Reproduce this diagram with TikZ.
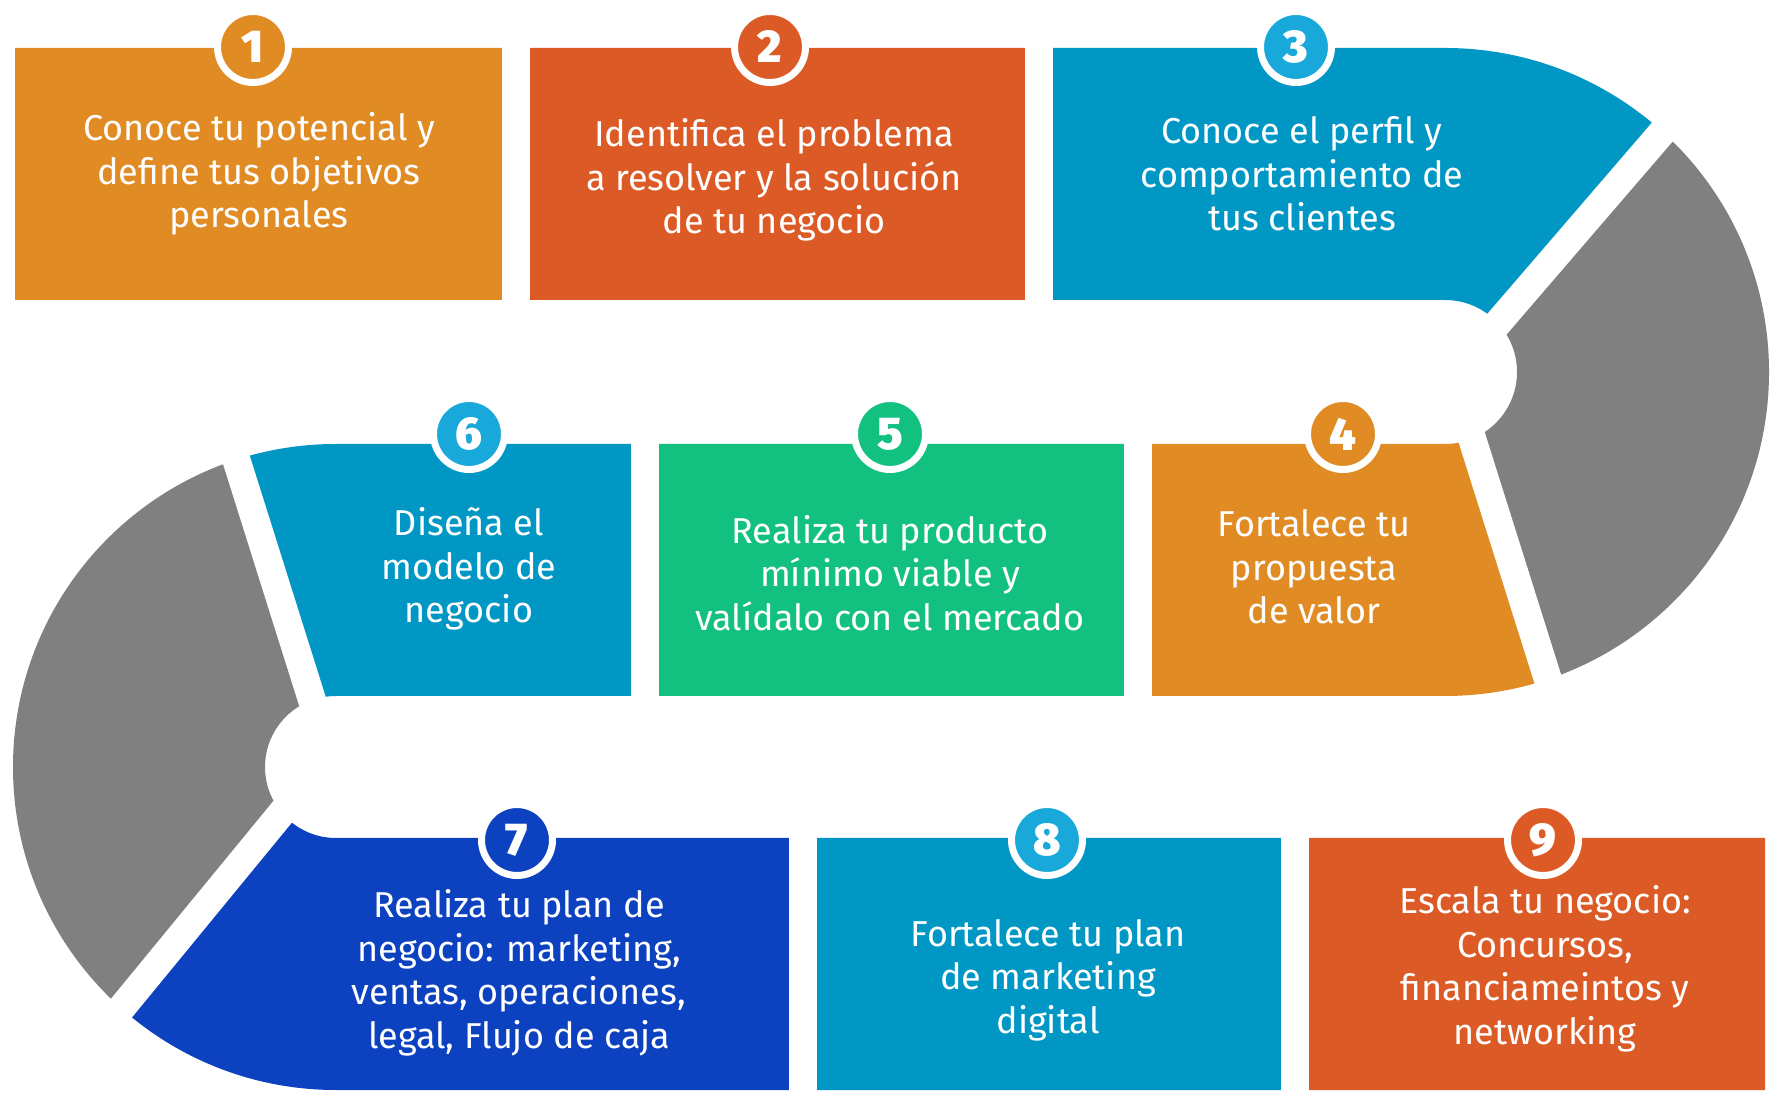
\documentclass[tikz,border=0pt]{standalone}
\usepackage{fontspec}
\setmainfont{Fira Sans}
\newfontfamily\numfont{Fira Sans Black}
\definecolor{corange}{HTML}{E08B24}
\definecolor{cred}{HTML}{DC5A26}
\definecolor{cblue}{HTML}{0097C4}
\definecolor{ccyan}{HTML}{18A8DA}
\definecolor{cgreen}{HTML}{12C07F}
\definecolor{cdblue}{HTML}{0C41C0}
\definecolor{cgrey}{HTML}{808080}
\begin{document}
\begin{tikzpicture}[x=1pt,y=1pt,
  txt/.style={text=white,align=center,font=\fontsize{36}{43.5}\selectfont,inner sep=0pt},
  badge/.style={circle,draw=white,line width=7pt,minimum size=71pt,inner sep=0pt,text=white,
    font=\fontsize{46}{46}\selectfont\numfont},
  gap/.style={white,line width=28pt}]
\useasboundingbox (0,0) rectangle (1779,1105);
\fill[white] (0,0) rectangle (1779,1105);
% serpentine band, coloured piece by piece
\begin{scope}
\clip (15,1057) -- (1445,1057) arc[start angle=90,end angle=-90,radius=324]
  -- (336,409) arc[start angle=90,end angle=270,radius=71]
  -- (1765,267) -- (1765,15) -- (336,15) arc[start angle=270,end angle=90,radius=323]
  -- (1445,661) arc[start angle=-90,end angle=90,radius=72] -- (15,805) -- cycle;
\fill[corange] (0,700) rectangle (516,1105);
\fill[cred] (516,700) rectangle (1039,1105);
\fill[cblue] (1039,733) -- (1039,1105) -- (1777,1105) -- (1455,733) -- cycle;
\fill[cgrey] (1777,1105) -- (1800,1105) -- (1800,300) -- (1587.5,300) -- (1451,733) -- (1455,733) -- cycle;
\fill[corange] (1138,300) -- (1587.5,300) -- (1451,733) -- (1138,733) -- cycle;
\fill[cgreen] (645,300) rectangle (1138,733);
\fill[cblue] (219,700) -- (645,700) -- (645,338) -- (333,338) -- cycle;
\fill[cgrey] (-10,700) -- (219,700) -- (333,338) -- (319.5,338) -- (33.7,-10) -- (-10,-10) -- cycle;
\fill[cdblue] (319.5,338) -- (802.5,338) -- (802.5,-10) -- (33.7,-10) -- cycle;
\fill[cblue] (802.5,-10) rectangle (1295,338);
\fill[cred] (1295,-10) rectangle (1800,338);
\end{scope}
% white gaps between the pieces
\draw[gap] (516,790) -- (516,1070);
\draw[gap] (1039,790) -- (1039,1070);
\draw[gap] (645,395) -- (645,675);
\draw[gap] (1138,395) -- (1138,675);
\draw[gap] (802.5,0) -- (802.5,280);
\draw[gap] (1295,0) -- (1295,280);
\draw[gap] (1479,760) -- (1683,997);
\draw[gap] (1464,692) -- (1558.5,392);
\draw[gap] (225.5,679.7) -- (320,379.6);
\draw[gap] (297,310.7) -- (92,61);
% badges
\node[badge,fill=corange] (b1) at (253,1058) {1};
\node[badge,fill=cred] (b2) at (770,1058) {2};
\node[badge,fill=ccyan] (b3) at (1296,1058) {3};
\node[badge,fill=corange] (b4) at (1343,671) {4};
\node[badge,fill=cgreen] (b5) at (890,671) {5};
\node[badge,fill=ccyan] (b6) at (469,671) {6};
\node[badge,fill=cdblue] (b7) at (517,265) {7};
\node[badge,fill=ccyan] (b8) at (1047,265) {8};
\node[badge,fill=cred] (b9) at (1543,265) {9};
% texts
\node[txt] (t1) at (259,931) {Conoce tu potencial y\\define tus objetivos\\personales};
\node[txt] (t2) at (774,925) {Identifica el problema\\a resolver y la solución\\de tu negocio};
\node[txt] (t3) at (1302,931) {Conoce el perfil y\\comportamiento de\\tus clientes};
\node[txt] (t4) at (1314,538) {Fortalece tu\\propuesta\\de valor};
\node[txt] (t5) at (890,532) {Realiza tu producto\\mínimo viable y\\valídalo con el mercado};
\node[txt] (t6) at (469,536) {Diseña el\\modelo de\\negocio};
\node[txt] (t7) at (519,132) {Realiza tu plan de\\negocio: marketing,\\ventas, operaciones,\\legal, Flujo de caja};
\node[txt] (t8) at (1048,125) {Fortalece tu plan\\de marketing\\digital};
\node[txt] (t9) at (1545,136) {Escala tu negocio:\\Concursos,\\financiameintos y\\networking};
\end{tikzpicture}
\end{document}
